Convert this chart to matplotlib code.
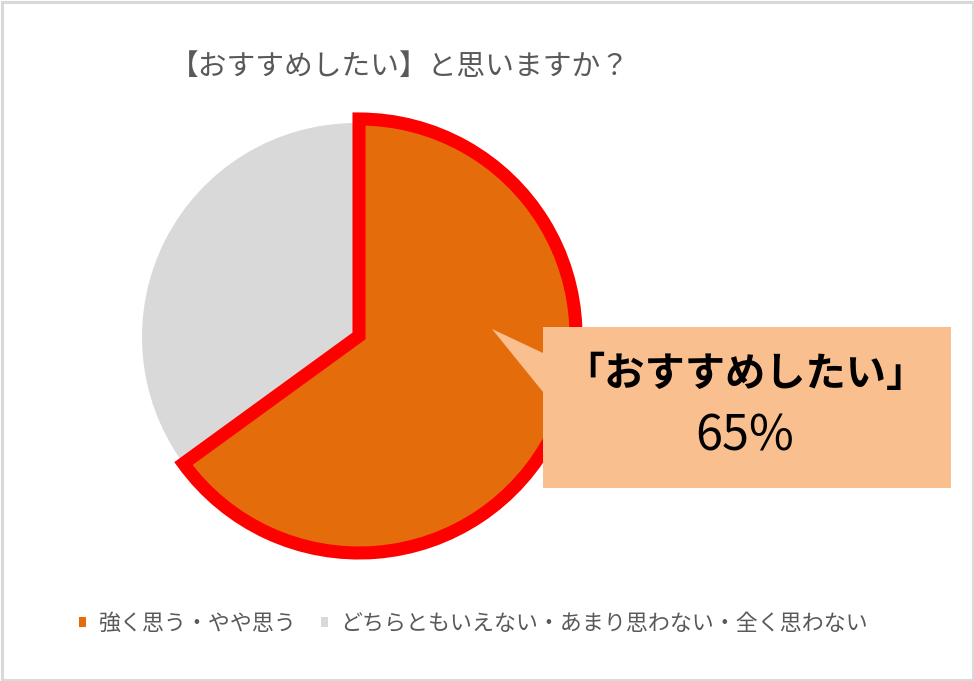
import matplotlib.pyplot as plt
from matplotlib.patches import Patch, Polygon, Rectangle

plt.rcParams['font.family'] = ['Noto Sans CJK JP', 'DejaVu Sans']

W, H = 974, 681

title = '【おすすめしたい】と思いますか？'
labels = ['強く思う・やや思う', 'どちらともいえない・あまり思わない・全く思わない']
values = [65, 35]
colors = ['#E46C0A', '#D9D9D9']
callout_head = '「おすすめしたい」'
callout_value = '65%'


def fy(y):
    # image pixel row -> data y (origin at bottom)
    return H - y


fig = plt.figure(figsize=(W / 100, H / 100), dpi=100)
ax = fig.add_axes([0, 0, 1, 1])

wedges, _ = ax.pie(values, colors=colors, startangle=90, counterclock=False,
                   center=(356, fy(337)), radius=214,
                   wedgeprops=dict(linewidth=0))
# highlighted slice: slightly larger, thick red outline
wedges[0].set_center((359, fy(336)))
wedges[0].set_radius(217)
wedges[0].set_edgecolor('#FF0000')
wedges[0].set_linewidth(9.4)
wedges[0].set_joinstyle('miter')
wedges[0].set_zorder(3)

ax.set_xlim(0, W)
ax.set_ylim(0, H)
ax.set_aspect('equal')
ax.axis('off')

# callout box with pointer
callout = Polygon([(543, fy(327)), (951, fy(327)), (951, fy(488)), (543, fy(488)),
                   (543, fy(392)), (492, fy(329)), (543, fy(353))],
                  closed=True, facecolor='#F9BF8F', edgecolor='none', zorder=5)
ax.add_patch(callout)
ax.text(745, fy(375), callout_head, fontsize=29, fontweight='bold', color='black',
        ha='center', va='center', zorder=6)
ax.text(745, fy(437), callout_value, fontsize=35, color='black',
        ha='center', va='center', zorder=6)

ax.text(400, fy(67), title, fontsize=20.7, color='#595959', ha='center', va='center')

handles = [Patch(facecolor=c, edgecolor='none') for c in colors]
fig.legend(handles, labels, loc='center left', bbox_to_anchor=(79 / W, 1 - 624 / H),
           ncol=2, frameon=False, fontsize=15.8, labelcolor='#595959',
           handlelength=0.32, handleheight=0.32, handletextpad=0.55,
           columnspacing=1.15, borderpad=0, borderaxespad=0)

# outer frame
fig.patches.append(Rectangle((1.5, 1.5), W - 3, H - 3, transform=None, fill=False,
                             edgecolor='#D9D9D9', linewidth=2.2))

fig.savefig('out.png', dpi=100)
